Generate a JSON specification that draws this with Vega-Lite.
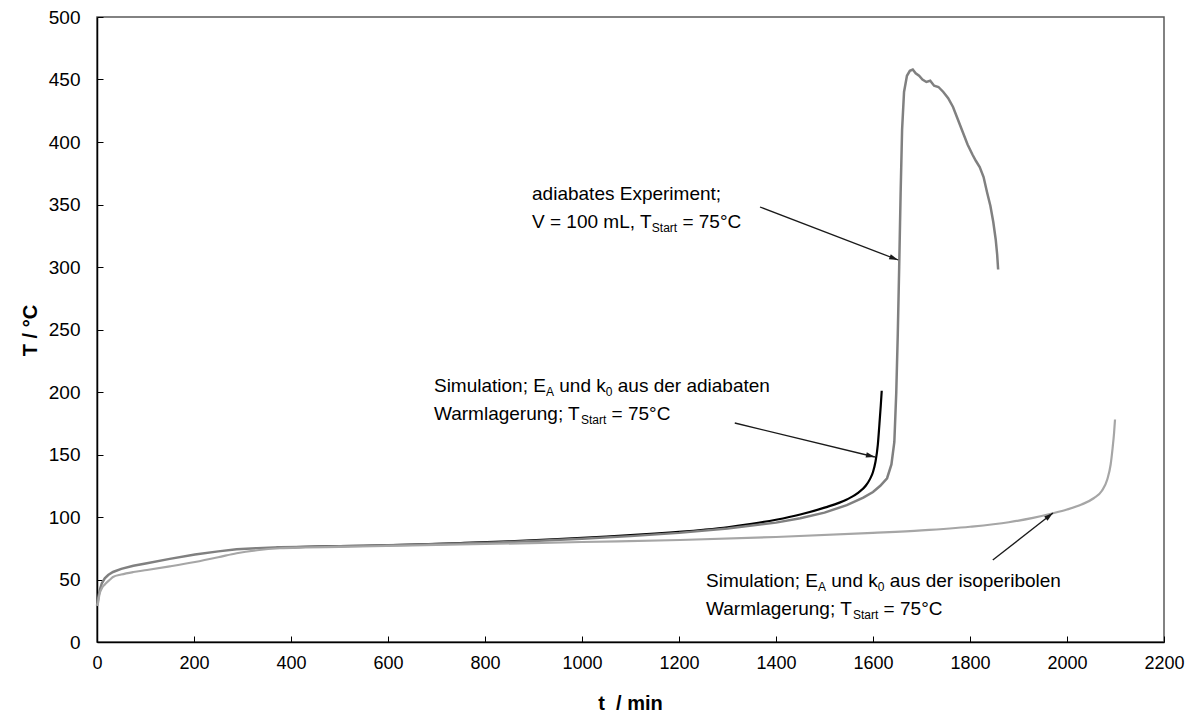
{
  "$schema": "https://vega.github.io/schema/vega-lite/v6.json",
  "width": 1067,
  "height": 625,
  "autosize": {"type": "none"},
  "padding": {"left": 97, "top": 17, "right": 31, "bottom": 75},
  "background": "#ffffff",
  "config": {
    "view": {"stroke": "#595959", "strokeWidth": 1.5},
    "axis": {"grid": false, "domainColor": "#000000", "domainWidth": 1.5, "tickColor": "#000000", "tickWidth": 1, "tickSize": -6, "labelColor": "#000000", "titleColor": "#000000"}
  },
  "datasets": {
    "curves": [
      {"series": "exp", "t": 0, "T": 29}, {"series": "exp", "t": 3, "T": 36}, {"series": "exp", "t": 6, "T": 42}, {"series": "exp", "t": 10, "T": 47}, {"series": "exp", "t": 16, "T": 51}, {"series": "exp", "t": 23, "T": 53.6}, {"series": "exp", "t": 33, "T": 56}, {"series": "exp", "t": 50, "T": 58.5}, {"series": "exp", "t": 75, "T": 61}, {"series": "exp", "t": 103, "T": 63}, {"series": "exp", "t": 150, "T": 66.5}, {"series": "exp", "t": 202, "T": 70}, {"series": "exp", "t": 250, "T": 72.5}, {"series": "exp", "t": 288, "T": 74.2}, {"series": "exp", "t": 330, "T": 75.1}, {"series": "exp", "t": 377, "T": 75.8}, {"series": "exp", "t": 450, "T": 76.3}, {"series": "exp", "t": 550, "T": 77}, {"series": "exp", "t": 650, "T": 77.8}, {"series": "exp", "t": 750, "T": 78.8}, {"series": "exp", "t": 825, "T": 79.7}, {"series": "exp", "t": 900, "T": 80.8}, {"series": "exp", "t": 1000, "T": 82.6}, {"series": "exp", "t": 1100, "T": 84.7}, {"series": "exp", "t": 1200, "T": 87.3}, {"series": "exp", "t": 1300, "T": 90.8}, {"series": "exp", "t": 1400, "T": 95.5}, {"series": "exp", "t": 1450, "T": 99}, {"series": "exp", "t": 1500, "T": 103.5}, {"series": "exp", "t": 1546, "T": 109.5}, {"series": "exp", "t": 1580, "T": 115.5}, {"series": "exp", "t": 1600, "T": 120}, {"series": "exp", "t": 1615, "T": 125}, {"series": "exp", "t": 1629, "T": 131}, {"series": "exp", "t": 1638, "T": 142}, {"series": "exp", "t": 1644, "T": 160}, {"series": "exp", "t": 1648, "T": 200}, {"series": "exp", "t": 1651, "T": 245}, {"series": "exp", "t": 1654, "T": 300}, {"series": "exp", "t": 1657, "T": 360}, {"series": "exp", "t": 1660, "T": 410}, {"series": "exp", "t": 1664, "T": 440}, {"series": "exp", "t": 1670, "T": 453}, {"series": "exp", "t": 1676, "T": 457}, {"series": "exp", "t": 1682, "T": 458}, {"series": "exp", "t": 1688, "T": 455}, {"series": "exp", "t": 1695, "T": 453}, {"series": "exp", "t": 1702, "T": 450}, {"series": "exp", "t": 1710, "T": 448}, {"series": "exp", "t": 1718, "T": 449}, {"series": "exp", "t": 1726, "T": 445}, {"series": "exp", "t": 1735, "T": 444}, {"series": "exp", "t": 1745, "T": 440}, {"series": "exp", "t": 1755, "T": 435}, {"series": "exp", "t": 1765, "T": 428}, {"series": "exp", "t": 1775, "T": 418}, {"series": "exp", "t": 1785, "T": 408}, {"series": "exp", "t": 1795, "T": 398}, {"series": "exp", "t": 1805, "T": 390}, {"series": "exp", "t": 1812, "T": 385}, {"series": "exp", "t": 1820, "T": 380}, {"series": "exp", "t": 1828, "T": 372}, {"series": "exp", "t": 1835, "T": 360}, {"series": "exp", "t": 1842, "T": 349}, {"series": "exp", "t": 1848, "T": 336}, {"series": "exp", "t": 1853, "T": 322}, {"series": "exp", "t": 1856, "T": 310}, {"series": "exp", "t": 1858, "T": 298},
      {"series": "simA", "t": 370, "T": 75.5}, {"series": "simA", "t": 450, "T": 76.3}, {"series": "simA", "t": 550, "T": 77}, {"series": "simA", "t": 650, "T": 78}, {"series": "simA", "t": 750, "T": 79.2}, {"series": "simA", "t": 850, "T": 80.6}, {"series": "simA", "t": 950, "T": 82.3}, {"series": "simA", "t": 1050, "T": 84.3}, {"series": "simA", "t": 1150, "T": 86.7}, {"series": "simA", "t": 1250, "T": 89.8}, {"series": "simA", "t": 1300, "T": 91.8}, {"series": "simA", "t": 1350, "T": 94.5}, {"series": "simA", "t": 1400, "T": 97.8}, {"series": "simA", "t": 1450, "T": 102}, {"series": "simA", "t": 1500, "T": 107.5}, {"series": "simA", "t": 1546, "T": 114}, {"series": "simA", "t": 1570, "T": 119.5}, {"series": "simA", "t": 1585, "T": 125}, {"series": "simA", "t": 1594, "T": 130.5}, {"series": "simA", "t": 1600, "T": 136}, {"series": "simA", "t": 1605, "T": 144}, {"series": "simA", "t": 1610, "T": 158}, {"series": "simA", "t": 1613, "T": 173}, {"series": "simA", "t": 1616, "T": 189}, {"series": "simA", "t": 1618, "T": 201},
      {"series": "simI", "t": 0, "T": 29}, {"series": "simI", "t": 2, "T": 31}, {"series": "simI", "t": 5, "T": 38}, {"series": "simI", "t": 10, "T": 43}, {"series": "simI", "t": 16, "T": 46}, {"series": "simI", "t": 27, "T": 50}, {"series": "simI", "t": 33, "T": 52}, {"series": "simI", "t": 50, "T": 54}, {"series": "simI", "t": 75, "T": 56}, {"series": "simI", "t": 103, "T": 57.6}, {"series": "simI", "t": 150, "T": 60.5}, {"series": "simI", "t": 202, "T": 64}, {"series": "simI", "t": 250, "T": 67.8}, {"series": "simI", "t": 288, "T": 71}, {"series": "simI", "t": 330, "T": 73.4}, {"series": "simI", "t": 377, "T": 75}, {"series": "simI", "t": 430, "T": 75.6}, {"series": "simI", "t": 500, "T": 76.1}, {"series": "simI", "t": 650, "T": 77.2}, {"series": "simI", "t": 800, "T": 78.4}, {"series": "simI", "t": 1000, "T": 80}, {"series": "simI", "t": 1202, "T": 81.6}, {"series": "simI", "t": 1400, "T": 84}, {"series": "simI", "t": 1600, "T": 87.3}, {"series": "simI", "t": 1700, "T": 89.3}, {"series": "simI", "t": 1800, "T": 92.2}, {"series": "simI", "t": 1880, "T": 95.8}, {"series": "simI", "t": 1930, "T": 99.3}, {"series": "simI", "t": 1971, "T": 103}, {"series": "simI", "t": 2000, "T": 106}, {"series": "simI", "t": 2030, "T": 110}, {"series": "simI", "t": 2055, "T": 115}, {"series": "simI", "t": 2072, "T": 121}, {"series": "simI", "t": 2083, "T": 130}, {"series": "simI", "t": 2090, "T": 142}, {"series": "simI", "t": 2094, "T": 155}, {"series": "simI", "t": 2097, "T": 167}, {"series": "simI", "t": 2099, "T": 178}
    ],
    "labels": [
      {"role": "main", "t": 897, "T": 353.6, "text": "adiabates Experiment;"},
      {"role": "main", "t": 897, "T": 331.2, "text": "V = 100 mL, T"},
      {"role": "sub", "t": 1144, "T": 328, "text": "Start"},
      {"role": "main", "t": 1207, "T": 331.2, "text": "= 75°C"},
      {"role": "main", "t": 694.8, "T": 200, "text": "Simulation; E"},
      {"role": "sub", "t": 925.8, "T": 196.8, "text": "A"},
      {"role": "main", "t": 953.2, "T": 200, "text": "und k"},
      {"role": "sub", "t": 1049, "T": 196.8, "text": "0"},
      {"role": "main", "t": 1073.8, "T": 200, "text": "aus der adiabaten"},
      {"role": "main", "t": 694.8, "T": 177.6, "text": "Warmlagerung; T"},
      {"role": "sub", "t": 997.9, "T": 174.4, "text": "Start"},
      {"role": "main", "t": 1061, "T": 177.6, "text": "= 75°C"},
      {"role": "main", "t": 1255.7, "T": 44, "text": "Simulation; E"},
      {"role": "sub", "t": 1486.6, "T": 40.8, "text": "A"},
      {"role": "main", "t": 1514, "T": 44, "text": "und k"},
      {"role": "sub", "t": 1609.9, "T": 40.8, "text": "0"},
      {"role": "main", "t": 1634.6, "T": 44, "text": "aus der isoperibolen"},
      {"role": "main", "t": 1255.7, "T": 21.6, "text": "Warmlagerung; T"},
      {"role": "sub", "t": 1558.8, "T": 18.4, "text": "Start"},
      {"role": "main", "t": 1621.9, "T": 21.6, "text": "= 75°C"}
    ],
    "arrows": [
      {"id": "exp", "t": 1367, "T": 348, "t2": 1652, "T2": 305.6},
      {"id": "simA", "t": 1315, "T": 175.2, "t2": 1604, "T2": 148},
      {"id": "simI", "t": 1847, "T": 65.6, "t2": 1971, "T2": 103.2}
    ]
  },
  "encoding": {
    "x": {"field": "t", "type": "quantitative", "scale": {"domain": [0, 2200], "nice": false, "zero": false},
      "axis": {"title": "t \u00a0/ min", "format": "d", "values": [0, 200, 400, 600, 800, 1000, 1200, 1400, 1600, 1800, 2000, 2200], "labelFont": "Liberation Sans", "labelFontSize": 18, "labelPadding": 18, "labelFlush": false, "titleFont": "Liberation Sans", "titleFontSize": 20, "titleFontWeight": "bold", "titleX": 533, "titleY": 61, "titleBaseline": "middle", "titleAlign": "center"}},
    "y": {"field": "T", "type": "quantitative", "scale": {"domain": [0, 500], "nice": false, "zero": false},
      "axis": {"title": "T / °C", "format": "d", "values": [0, 50, 100, 150, 200, 250, 300, 350, 400, 450, 500], "labelFont": "Liberation Sans", "labelFontSize": 19, "labelPadding": 23, "labelFlush": false, "titleFont": "Liberation Sans", "titleFontSize": 20, "titleFontWeight": "bold", "titleAngle": -90, "titleX": -67, "titleY": 313, "titleBaseline": "middle", "titleAlign": "center"}}
  },
  "layer": [
    {"data": {"name": "curves"}, "transform": [{"filter": "datum.series === 'simA'"}], "mark": {"type": "line", "color": "#000000", "strokeWidth": 2.2, "interpolate": "monotone"}},
    {"data": {"name": "curves"}, "transform": [{"filter": "datum.series === 'exp'"}], "mark": {"type": "line", "color": "#808080", "strokeWidth": 2.5}},
    {"data": {"name": "curves"}, "transform": [{"filter": "datum.series === 'simI'"}], "mark": {"type": "line", "color": "#a6a6a6", "strokeWidth": 2.2, "interpolate": "monotone"}},
    {"data": {"name": "arrows"}, "mark": {"type": "rule", "color": "#1a1a1a", "strokeWidth": 1.3}, "encoding": {"x2": {"field": "t2"}, "y2": {"field": "T2"}}},
    {"data": {"name": "arrows"}, "transform": [{"filter": "datum.id === 'exp'"}], "mark": {"type": "point", "shape": "M0,0 L-2,-0.6 L-2,0.6 Z", "filled": true, "color": "#1a1a1a", "opacity": 1, "size": 81, "angle": 21}, "encoding": {"x": {"field": "t2", "type": "quantitative"}, "y": {"field": "T2", "type": "quantitative"}}},
    {"data": {"name": "arrows"}, "transform": [{"filter": "datum.id === 'simA'"}], "mark": {"type": "point", "shape": "M0,0 L-2,-0.6 L-2,0.6 Z", "filled": true, "color": "#1a1a1a", "opacity": 1, "size": 81, "angle": 13.7}, "encoding": {"x": {"field": "t2", "type": "quantitative"}, "y": {"field": "T2", "type": "quantitative"}}},
    {"data": {"name": "arrows"}, "transform": [{"filter": "datum.id === 'simI'"}], "mark": {"type": "point", "shape": "M0,0 L-2,-0.6 L-2,0.6 Z", "filled": true, "color": "#1a1a1a", "opacity": 1, "size": 81, "angle": -38}, "encoding": {"x": {"field": "t2", "type": "quantitative"}, "y": {"field": "T2", "type": "quantitative"}}},
    {"data": {"name": "labels"}, "transform": [{"filter": "datum.role === 'main'"}], "mark": {"type": "text", "align": "left", "baseline": "alphabetic", "font": "Liberation Sans", "fontSize": 19, "color": "#000000"}, "encoding": {"text": {"field": "text"}}},
    {"data": {"name": "labels"}, "transform": [{"filter": "datum.role === 'sub'"}], "mark": {"type": "text", "align": "left", "baseline": "alphabetic", "font": "Liberation Sans", "fontSize": 12, "color": "#000000"}, "encoding": {"text": {"field": "text"}}}
  ]
}
